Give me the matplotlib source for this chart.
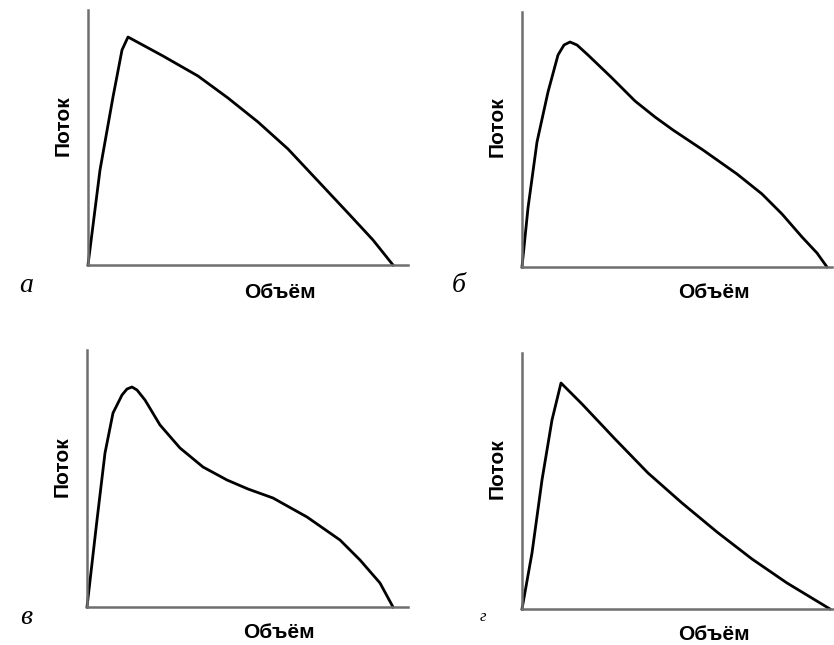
import matplotlib.pyplot as plt

# flow-volume loops, arbitrary units (volume along x, flow along y)
vol_a = [0, 12, 25, 34, 40, 75, 110, 140, 170, 200, 230, 260, 285, 305]
flow_a = [0, 95, 168, 215, 228, 209, 189, 167, 143, 116, 84, 52, 25, 0]

vol_b = [0, 6, 15, 26, 36, 42, 48, 55, 66, 90, 113, 133, 151, 181, 215, 240, 260, 280, 295, 305]
flow_b = [0, 59, 125, 175, 212, 222, 225, 222, 212, 189, 166, 150, 137, 117, 93, 73, 53, 30, 14, 0]

vol_c = [0, 10, 18, 26, 35, 40, 45, 50, 58, 73, 93, 116, 140, 161, 186, 220, 253, 273, 293, 306]
flow_c = [0, 87, 154, 194, 212, 218, 220, 217, 207, 182, 159, 140, 127, 118, 109, 90, 67, 47, 24, 0]

vol_d = [0, 10, 20, 30, 39, 60, 93, 126, 160, 195, 230, 265, 308]
flow_d = [0, 56, 129, 189, 226, 205, 170, 136, 106, 77, 50, 26, 0]

letters = ["а", "б", "в", "г"]
xlabel = "Объём"
ylabel = "Поток"

W, H = 834, 645
fig = plt.figure(figsize=(W / 100, H / 100), dpi=100)

# panel boxes in pixels: origin x, origin y, width, height
boxes = [(88, 265, 320, 255), (522, 267, 310, 255),
         (87, 607, 321, 257), (522, 609, 312, 256)]
curves = [(vol_a, flow_a), (vol_b, flow_b), (vol_c, flow_c), (vol_d, flow_d)]
ylab_pos = [(63, 126), (497, 127), (62, 467), (497, 469)]
xlab_pos = [(280, 292), (714, 293), (279, 633), (714, 635)]
let_pos = [(26, 285), (459, 285), (26, 617), (483, 617)]
let_size = [20, 20, 20, 12]

for i in range(4):
    x0, y0, w, h = boxes[i]
    ax = fig.add_axes([x0 / W, 1 - y0 / H, w / W, h / H])
    v, f = curves[i]
    ax.plot(v, f, color="black", lw=2.0, clip_on=False, solid_joinstyle="round")
    ax.set_xlim(0, w)
    ax.set_ylim(0, h)
    for s in ["top", "right"]:
        ax.spines[s].set_visible(False)
    for s in ["left", "bottom"]:
        ax.spines[s].set_color("#6e6e6e")
        ax.spines[s].set_linewidth(1.8)
    ax.set_xticks([])
    ax.set_yticks([])

    fig.text(ylab_pos[i][0] / W, 1 - ylab_pos[i][1] / H, ylabel, rotation=90,
             ha="center", va="center", fontsize=15, fontweight="bold",
             family="Liberation Sans")
    fig.text(xlab_pos[i][0] / W, 1 - xlab_pos[i][1] / H, xlabel,
             ha="center", va="center", fontsize=15, fontweight="bold",
             family="Liberation Sans")
    fig.text(let_pos[i][0] / W, 1 - let_pos[i][1] / H, letters[i],
             ha="center", va="center", fontsize=let_size[i], style="italic",
             family="Liberation Serif")

fig.savefig("out.png", dpi=100)
